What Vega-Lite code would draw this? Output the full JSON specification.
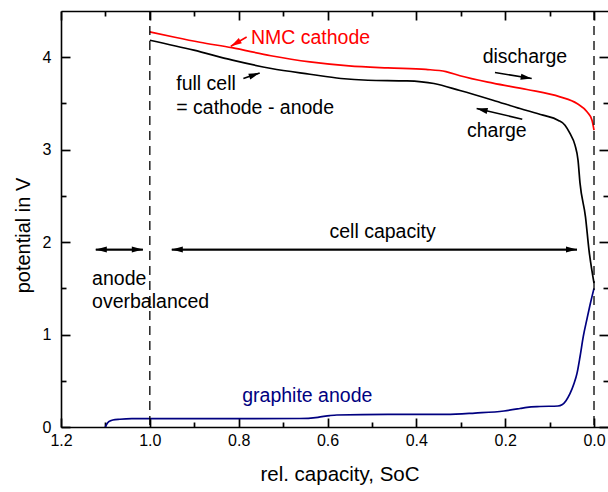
{
  "$schema": "https://vega.github.io/schema/vega-lite/v6.json",
  "width": 547,
  "height": 416,
  "autosize": {"type": "none"},
  "padding": {"left": 61, "top": 11, "right": 0, "bottom": 65},
  "background": "white",
  "view": {"stroke": null},
  "config": {
    "font": "Liberation Sans",
    "axis": {
      "grid": false,
      "domainColor": "#000000",
      "domainWidth": 1.6,
      "tickColor": "#000000",
      "tickWidth": 1.6,
      "labelColor": "#000000",
      "labelFont": "Liberation Sans",
      "labelFontSize": 16,
      "labelFlush": false,
      "titleColor": "#000000",
      "titleFont": "Liberation Sans",
      "titleFontWeight": "normal"
    },
    "text": {"font": "Liberation Sans"}
  },
  "datasets": {
    "curves": [
      {"soc": 1.0, "v": 4.274, "group": "cathode"},
      {"soc": 0.9437, "v": 4.216, "group": "cathode"},
      {"soc": 0.8874, "v": 4.162, "group": "cathode"},
      {"soc": 0.8153, "v": 4.103, "group": "cathode"},
      {"soc": 0.7275, "v": 4.016, "group": "cathode"},
      {"soc": 0.6396, "v": 3.949, "group": "cathode"},
      {"soc": 0.5518, "v": 3.906, "group": "cathode"},
      {"soc": 0.464, "v": 3.884, "group": "cathode"},
      {"soc": 0.3784, "v": 3.868, "group": "cathode"},
      {"soc": 0.3333, "v": 3.845, "group": "cathode"},
      {"soc": 0.3018, "v": 3.8, "group": "cathode"},
      {"soc": 0.2275, "v": 3.72, "group": "cathode"},
      {"soc": 0.1509, "v": 3.651, "group": "cathode"},
      {"soc": 0.0766, "v": 3.571, "group": "cathode"},
      {"soc": 0.0383, "v": 3.499, "group": "cathode"},
      {"soc": 0.0158, "v": 3.409, "group": "cathode"},
      {"soc": 0.0045, "v": 3.319, "group": "cathode"},
      {"soc": 0.0, "v": 3.211, "group": "cathode"},

      {"soc": 1.0, "v": 4.184, "group": "cell"},
      {"soc": 0.9009, "v": 4.076, "group": "cell"},
      {"soc": 0.814, "v": 3.968, "group": "cell"},
      {"soc": 0.7266, "v": 3.878, "group": "cell"},
      {"soc": 0.6396, "v": 3.816, "group": "cell"},
      {"soc": 0.5698, "v": 3.77, "group": "cell"},
      {"soc": 0.509, "v": 3.751, "group": "cell"},
      {"soc": 0.4212, "v": 3.744, "group": "cell"},
      {"soc": 0.3604, "v": 3.716, "group": "cell"},
      {"soc": 0.3018, "v": 3.64, "group": "cell"},
      {"soc": 0.2275, "v": 3.535, "group": "cell"},
      {"soc": 0.1667, "v": 3.445, "group": "cell"},
      {"soc": 0.1149, "v": 3.373, "group": "cell"},
      {"soc": 0.0811, "v": 3.319, "group": "cell"},
      {"soc": 0.0653, "v": 3.265, "group": "cell"},
      {"soc": 0.0541, "v": 3.175, "group": "cell"},
      {"soc": 0.0428, "v": 3.049, "group": "cell"},
      {"soc": 0.036, "v": 2.886, "group": "cell"},
      {"soc": 0.0315, "v": 2.638, "group": "cell"},
      {"soc": 0.0192, "v": 2.274, "group": "cell"},
      {"soc": 0.0113, "v": 1.914, "group": "cell"},
      {"soc": 0.0, "v": 1.557, "group": "cell"},

      {"soc": 1.1002, "v": 0.0, "group": "anode"},
      {"soc": 1.0968, "v": 0.032, "group": "anode"},
      {"soc": 1.0923, "v": 0.057, "group": "anode"},
      {"soc": 1.0833, "v": 0.076, "group": "anode"},
      {"soc": 1.0676, "v": 0.084, "group": "anode"},
      {"soc": 1.0405, "v": 0.09, "group": "anode"},
      {"soc": 0.814, "v": 0.09, "group": "anode"},
      {"soc": 0.662, "v": 0.092, "group": "anode"},
      {"soc": 0.6216, "v": 0.105, "group": "anode"},
      {"soc": 0.5946, "v": 0.124, "group": "anode"},
      {"soc": 0.5788, "v": 0.13, "group": "anode"},
      {"soc": 0.464, "v": 0.137, "group": "anode"},
      {"soc": 0.3333, "v": 0.137, "group": "anode"},
      {"soc": 0.268, "v": 0.151, "group": "anode"},
      {"soc": 0.2027, "v": 0.173, "group": "anode"},
      {"soc": 0.1667, "v": 0.2, "group": "anode"},
      {"soc": 0.1509, "v": 0.213, "group": "anode"},
      {"soc": 0.1216, "v": 0.222, "group": "anode"},
      {"soc": 0.0811, "v": 0.227, "group": "anode"},
      {"soc": 0.0721, "v": 0.24, "group": "anode"},
      {"soc": 0.0631, "v": 0.285, "group": "anode"},
      {"soc": 0.0541, "v": 0.36, "group": "anode"},
      {"soc": 0.045, "v": 0.47, "group": "anode"},
      {"soc": 0.0383, "v": 0.58, "group": "anode"},
      {"soc": 0.0315, "v": 0.76, "group": "anode"},
      {"soc": 0.0241, "v": 0.98, "group": "anode"},
      {"soc": 0.0158, "v": 1.17, "group": "anode"},
      {"soc": 0.009, "v": 1.32, "group": "anode"},
      {"soc": 0.0, "v": 1.5, "group": "anode"}
    ],
    "limits": [
      {"soc": 1.0},
      {"soc": 0.0}
    ],
    "arrows": [
      {"soc": 0.782, "v": 4.219, "soc2": 0.8176, "v2": 4.119, "dir": 239.4, "group": "cathode"},
      {"soc": 0.7894, "v": 3.77, "soc2": 0.7527, "v2": 3.83, "dir": 71, "group": "cell"},
      {"soc": 0.223, "v": 3.835, "soc2": 0.1403, "v2": 3.77, "dir": 99.3, "group": "cell"},
      {"soc": 0.1615, "v": 3.33, "soc2": 0.2642, "v2": 3.445, "dir": 283.2, "group": "cell"},
      {"soc": 1.0158, "v": 1.919, "soc2": 1.1216, "v2": 1.919, "dir": 270, "group": "cell"},
      {"soc": 1.1216, "v": 1.919, "soc2": 1.0158, "v2": 1.919, "dir": 90, "group": "cell"},
      {"soc": 0.0383, "v": 1.919, "soc2": 0.9505, "v2": 1.919, "dir": 270, "group": "cell"},
      {"soc": 0.9505, "v": 1.919, "soc2": 0.0383, "v2": 1.919, "dir": 90, "group": "cell"}
    ],
    "curveNames": [
      {"text": "NMC cathode", "soc": 0.7725, "v": 4.148, "group": "cathode"},
      {"text": "graphite anode", "soc": 0.792, "v": 0.2735, "group": "anode"}
    ],
    "notes": [
      {"text": "discharge", "soc": 0.2507, "v": 3.935, "group": "cell"},
      {"text": "full cell", "soc": 0.9405, "v": 3.643, "group": "cell"},
      {"text": "= cathode - anode", "soc": 0.9405, "v": 3.391, "group": "cell"},
      {"text": "charge", "soc": 0.286, "v": 3.138, "group": "cell"},
      {"text": "cell capacity", "soc": 0.5955, "v": 2.04, "group": "cell"},
      {"text": "anode", "soc": 1.13, "v": 1.535, "group": "cell"},
      {"text": "overbalanced", "soc": 1.13, "v": 1.29, "group": "cell"}
    ]
  },
  "resolve": {"axis": {"x": "independent", "y": "independent"}},
  "layer": [
    {
      "data": {"name": "curves"},
      "mark": {"type": "line", "strokeWidth": 1.7, "interpolate": "monotone"},
      "encoding": {
        "x": {
          "field": "soc", "type": "quantitative",
          "scale": {"domain": [1.2, -0.0315], "nice": false, "zero": false},
          "axis": {
            "orient": "bottom",
            "values": [1.2, 1.0, 0.8, 0.6, 0.4, 0.2, 0.0],
            "format": ".1f",
            "ticks": false,
            "labelPadding": 5,
            "title": "rel. capacity, SoC",
            "titleFontSize": 20.5,
            "titleX": 278.5,
            "titleY": 53,
            "titleAlign": "center",
            "titleBaseline": "alphabetic"
          }
        },
        "y": {
          "field": "v", "type": "quantitative",
          "scale": {"domain": [0, 4.5], "nice": false, "zero": false},
          "axis": {
            "orient": "left",
            "values": [0, 1, 2, 3, 4],
            "format": "d",
            "ticks": false,
            "labelPadding": 10,
            "title": "potential in V",
            "titleFontSize": 20,
            "titleAngle": 270,
            "titleX": -38,
            "titleY": 224,
            "titleAlign": "center",
            "titleBaseline": "middle"
          }
        },
        "color": {
          "field": "group", "type": "nominal",
          "scale": {"domain": ["cathode", "cell", "anode"], "range": ["#ff0000", "#000000", "#000080"]},
          "legend": null
        },
        "detail": {"field": "group"}
      }
    },
    {
      "data": {"name": "limits"},
      "mark": {"type": "rule", "color": "#000000", "strokeWidth": 1.3, "strokeDash": [9, 6]},
      "encoding": {
        "x": {
          "field": "soc", "type": "quantitative",
          "axis": {
            "orient": "top",
            "offset": -416,
            "values": [1.2, 1.0, 0.8, 0.6, 0.4, 0.2, 0.0],
            "labels": false,
            "domain": false,
            "ticks": true,
            "title": null,
            "tickSize": 9,
            "tickColor": "#000000",
            "tickWidth": 1.7
          }
        }
      }
    },
    {
      "data": {"name": "arrows"},
      "mark": {"type": "rule", "strokeWidth": 1.6},
      "encoding": {
        "x": {
          "field": "soc", "type": "quantitative",
          "axis": {
            "orient": "top",
            "offset": -416,
            "values": [1.1, 0.9, 0.7, 0.5, 0.3, 0.1],
            "labels": false,
            "domain": false,
            "ticks": true,
            "title": null,
            "tickSize": 5,
            "tickColor": "#000000",
            "tickWidth": 1.7
          }
        },
        "x2": {"field": "soc2"},
        "y": {
          "field": "v", "type": "quantitative",
          "axis": {
            "orient": "right",
            "offset": -547,
            "values": [0, 1, 2, 3, 4],
            "labels": false,
            "domain": false,
            "ticks": true,
            "title": null,
            "tickSize": 9,
            "tickColor": "#000000",
            "tickWidth": 1.7
          }
        },
        "y2": {"field": "v2"},
        "color": {"field": "group", "type": "nominal", "legend": null}
      }
    },
    {
      "data": {"name": "arrows"},
      "mark": {"type": "point", "filled": true, "opacity": 1, "size": 121, "strokeWidth": 0, "shape": "M0,0L-0.55,2L0.55,2Z"},
      "encoding": {
        "x": {
          "field": "soc2", "type": "quantitative",
          "axis": {
            "orient": "bottom",
            "offset": -416,
            "values": [1.2, 1.0, 0.8, 0.6, 0.4, 0.2, 0.0],
            "labels": false,
            "domain": true,
            "ticks": true,
            "title": null,
            "tickSize": 9,
            "tickColor": "#000000",
            "tickWidth": 1.7
          }
        },
        "y": {
          "field": "v2", "type": "quantitative",
          "axis": {
            "orient": "right",
            "offset": -547,
            "values": [0.5, 1.5, 2.5, 3.5],
            "labels": false,
            "domain": false,
            "ticks": true,
            "title": null,
            "tickSize": 5,
            "tickColor": "#000000",
            "tickWidth": 1.7
          }
        },
        "angle": {"field": "dir", "type": "quantitative", "scale": null},
        "color": {"field": "group", "type": "nominal", "legend": null}
      }
    },
    {
      "data": {"name": "curveNames"},
      "mark": {"type": "text", "align": "left", "baseline": "alphabetic", "fontSize": 19.5},
      "encoding": {
        "x": {
          "field": "soc", "type": "quantitative",
          "axis": {
            "orient": "bottom",
            "offset": -416,
            "values": [1.1, 0.9, 0.7, 0.5, 0.3, 0.1],
            "labels": false,
            "domain": false,
            "ticks": true,
            "title": null,
            "tickSize": 5,
            "tickColor": "#000000",
            "tickWidth": 1.7
          }
        },
        "y": {
          "field": "v", "type": "quantitative",
          "axis": {
            "orient": "left",
            "offset": -547,
            "values": [0, 1, 2, 3, 4],
            "labels": false,
            "domain": false,
            "ticks": true,
            "title": null,
            "tickSize": 9,
            "tickColor": "#000000",
            "tickWidth": 1.7
          }
        },
        "text": {"field": "text"},
        "color": {"field": "group", "type": "nominal", "legend": null}
      }
    },
    {
      "data": {"name": "notes"},
      "mark": {"type": "text", "align": "left", "baseline": "alphabetic", "fontSize": 19.5},
      "encoding": {
        "x": {"field": "soc", "type": "quantitative", "axis": null},
        "y": {
          "field": "v", "type": "quantitative",
          "axis": {
            "orient": "left",
            "offset": -547,
            "values": [0.5, 1.5, 2.5, 3.5],
            "labels": false,
            "domain": false,
            "ticks": true,
            "title": null,
            "tickSize": 5,
            "tickColor": "#000000",
            "tickWidth": 1.7
          }
        },
        "text": {"field": "text"},
        "color": {"field": "group", "type": "nominal", "legend": null}
      }
    }
  ]
}
